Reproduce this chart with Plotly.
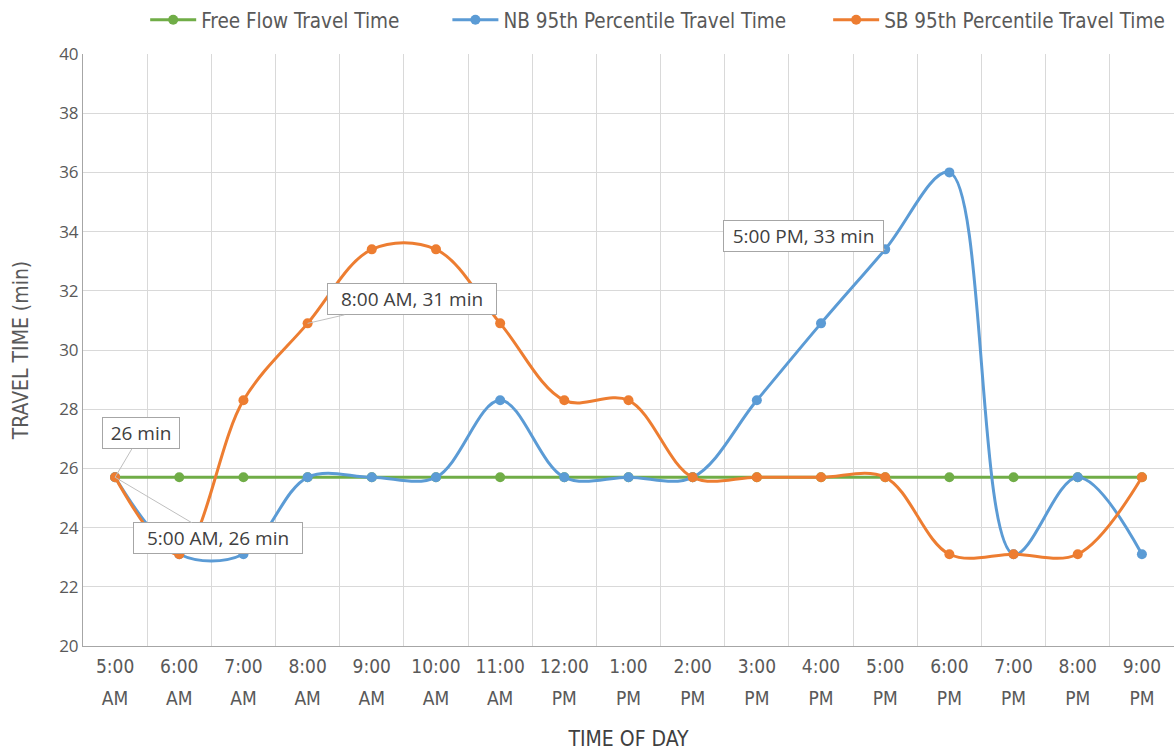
import plotly.graph_objects as go

# Hourly time slots (split over two label rows: clock time / AM-PM)
times = ["5:00", "6:00", "7:00", "8:00", "9:00", "10:00", "11:00", "12:00", "1:00",
         "2:00", "3:00", "4:00", "5:00", "6:00", "7:00", "8:00", "9:00"]
periods = ["AM", "AM", "AM", "AM", "AM", "AM", "AM", "PM", "PM",
           "PM", "PM", "PM", "PM", "PM", "PM", "PM", "PM"]

# Travel times in minutes
free_flow = [25.7] * 17
nb_95th = [25.7, 23.1, 23.1, 25.7, 25.7, 25.7, 28.3, 25.7, 25.7,
           25.7, 28.3, 30.9, 33.4, 36.0, 23.1, 25.7, 23.1]
sb_95th = [25.7, 23.1, 28.3, 30.9, 33.4, 33.4, 30.9, 28.3, 28.3,
           25.7, 25.7, 25.7, 25.7, 23.1, 23.1, 23.1, 25.7]

x = list(range(len(times)))

GREEN = "#70ad47"
BLUE = "#5b9bd5"
ORANGE = "#ed7d31"
TEXT = "#595959"
GRID = "#d9d9d9"
NARROW = "Liberation Sans Narrow, DejaVu Sans Condensed, Arial Narrow, sans-serif"
ROUND = "Open Sans, Noto Sans, sans-serif"

fig = go.Figure()


def add_series(name, values, color, legend):
    fig.add_trace(go.Scatter(
        x=x, y=values, name=name, mode="lines+markers", legend=legend,
        line=dict(color=color, width=3, shape="spline", smoothing=1),
        marker=dict(color=color, size=10),
    ))


add_series("Free Flow Travel Time", free_flow, GREEN, "legend")
add_series("NB 95th Percentile Travel Time", nb_95th, BLUE, "legend2")
add_series("SB 95th Percentile Travel Time", sb_95th, ORANGE, "legend3")


# Callout labels with leader lines
def callout(xi, yv, text, ax, ay, w):
    fig.add_annotation(
        x=xi, y=yv, text=text, showarrow=True, arrowhead=0, arrowwidth=1,
        arrowcolor="#bfbfbf", ax=ax, ay=ay, standoff=0, width=w,
        bgcolor="white", bordercolor="#a6a6a6", borderwidth=1, borderpad=2,
        font=dict(family=ROUND, size=19, color="#404040"),
    )


callout(0, nb_95th[0], f"{nb_95th[0]:.0f} min", 26, -44, 72)
callout(0, sb_95th[0], f"{times[0]} {periods[0]}, {sb_95th[0]:.0f} min", 103, 61, 164)
callout(3, sb_95th[3], f"{times[3]} {periods[3]}, {sb_95th[3]:.0f} min", 104, -24, 164)
callout(12, nb_95th[12], f"{times[12]} {periods[12]}, {nb_95th[12]:.0f} min", -82, -13, 155)

grid_between = [i + 0.5 for i in range(len(times) - 1)]


def legend_box(xpos):
    return dict(
        orientation="h", x=xpos, xanchor="left",
        yref="container", y=1.0, yanchor="top",
        font=dict(family=NARROW, size=20.5, color=TEXT),
        itemwidth=46, bgcolor="rgba(0,0,0,0)",
    )


fig.update_layout(
    width=1174, height=751,
    margin=dict(l=83, r=0, t=54, b=105, autoexpand=False),
    paper_bgcolor="white", plot_bgcolor="white",
    showlegend=True,
    legend=legend_box(0.057),
    legend2=legend_box(0.334),
    legend3=legend_box(0.683),
    xaxis=dict(
        range=[-0.5, len(times) - 0.5],
        tickvals=x, ticktext=times,
        showgrid=False, zeroline=False,
        showline=True, linecolor="#a6a6a6", linewidth=1,
        ticks="", ticklabelstandoff=3,
        tickfont=dict(family=NARROW, size=19, color=TEXT),
        minor=dict(tickvals=grid_between, showgrid=True, gridcolor=GRID, gridwidth=1, ticks=""),
        title=dict(text="TIME OF DAY", standoff=60,
                   font=dict(family=NARROW, size=21, color="#404040")),
    ),
    xaxis2=dict(
        overlaying="x", matches="x", anchor="y", side="bottom",
        range=[-0.5, len(times) - 0.5],
        tickvals=x, ticktext=periods,
        showgrid=False, zeroline=False, showline=False,
        ticks="", ticklabelstandoff=39,
        tickfont=dict(family=NARROW, size=19, color=TEXT),
    ),
    yaxis=dict(
        range=[20, 40], dtick=2,
        showgrid=True, gridcolor=GRID, gridwidth=1, zeroline=False,
        showline=True, linecolor="#a6a6a6", linewidth=1,
        ticks="", ticklabelstandoff=0,
        tickfont=dict(family=ROUND, size=17, color=TEXT),
        title=dict(text="TRAVEL TIME (min)", standoff=24,
                   font=dict(family=NARROW, size=21, color=TEXT)),
    ),
)

# invisible trace so the second x axis is drawn
fig.add_trace(go.Scatter(x=x, y=free_flow, xaxis="x2", mode="lines",
                         line=dict(width=0), showlegend=False, hoverinfo="skip"))

fig.write_html("out.html")
